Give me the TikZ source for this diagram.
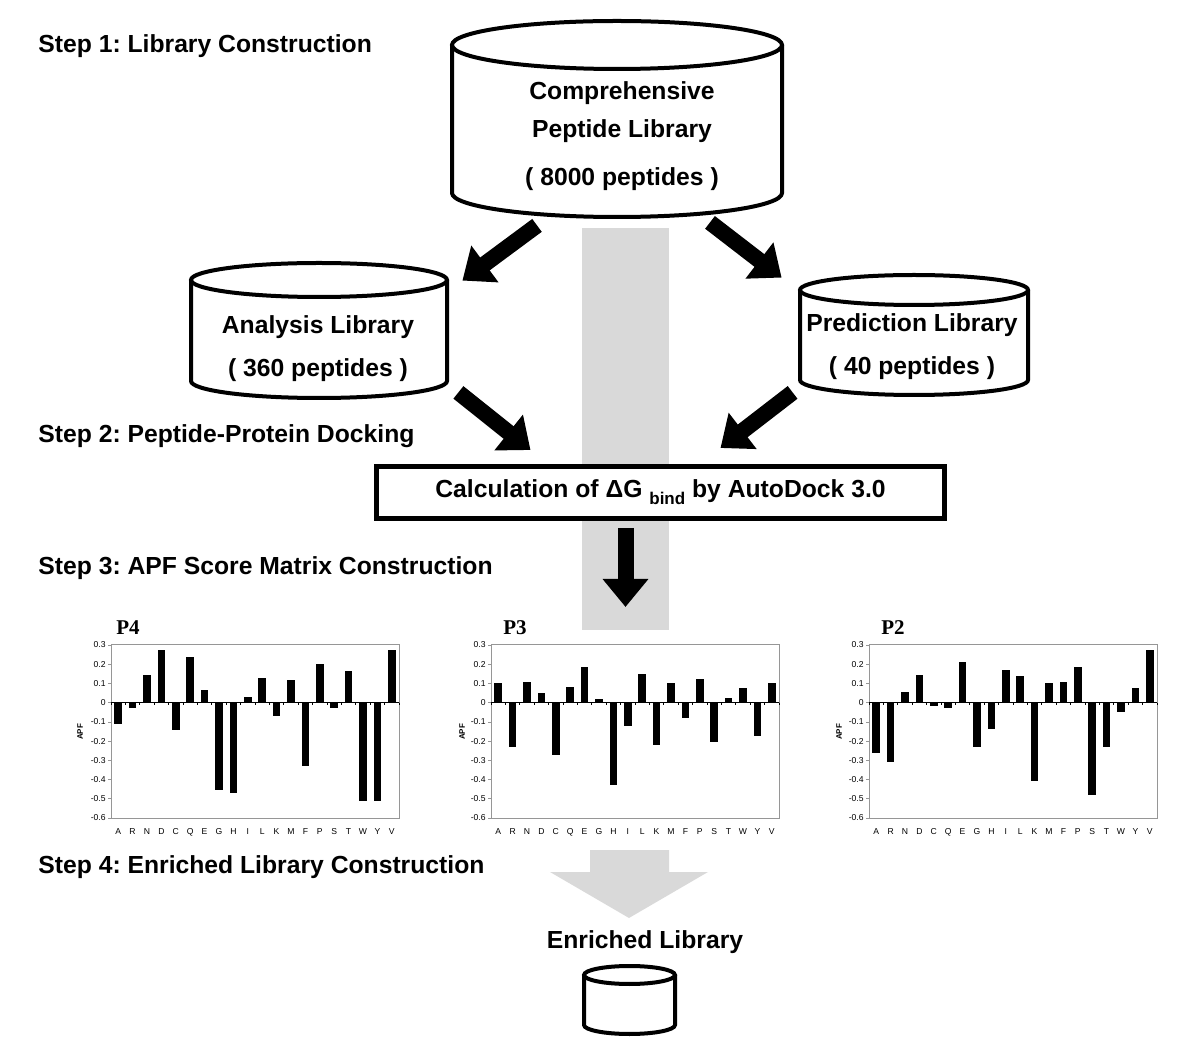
\documentclass[tikz,border=0pt]{standalone}
\usepackage{fontspec}
\setmainfont{Liberation Sans}
\newfontfamily\chartserif{Liberation Serif}
\frenchspacing
\usetikzlibrary{arrows.meta, positioning, fit}

\definecolor{bandgray}{RGB}{217,217,217}
\definecolor{framegray}{RGB}{150,150,150}

\tikzset{
  steplabel/.style={anchor=west, inner sep=0pt, font=\fontsize{12.35}{14}\selectfont\bfseries},
  libtext/.style={align=center, inner sep=0pt, font=\fontsize{12.35}{21.5}\selectfont\bfseries},
  drumline/.style={line width=2pt},
  fatarrow/.style={line width=8pt, -{Triangle[width=22pt,length=14pt]}},
  calcbox/.style={draw, line width=2.5pt, fill=white, minimum width=284pt, minimum height=26pt,
    inner sep=0pt, font=\fontsize{12.35}{14}\selectfont\bfseries},
  chartbox/.style={draw=framegray, line width=0.5pt, minimum width=144pt, minimum height=86.5pt,
    inner sep=0pt, outer sep=0pt},
  ticklabel/.style={anchor=east, inner sep=0pt, font=\fontsize{4.3}{5}\selectfont},
  catlabel/.style={inner sep=0pt, font=\fontsize{4.3}{5}\selectfont},
  apflabel/.style={rotate=90, inner sep=0pt, font=\fontsize{4}{5}\selectfont\bfseries},
  plabel/.style={anchor=west, inner sep=0pt, font=\fontsize{10.5}{12}\selectfont\chartserif\bfseries}
}

% drum: name, centre x, top y, bottom y, half width, y radius
\newcommand{\drum}[6]{%
  \draw[drumline] (#2-#5,#3) -- (#2-#5,#4)
    arc[start angle=180, end angle=0, x radius=#5, y radius=#6] -- (#2+#5,#3);
  \draw[drumline] (#2,#3) ellipse[x radius=#5, y radius=#6];
  \coordinate (#1nw) at (#2-#5,#3-#6);
  \coordinate (#1se) at (#2+#5,#4+#6);
  \node[fit=(#1nw)(#1se), inner sep=0pt] (#1) {};
}

\begin{document}
\begin{tikzpicture}[x=0.5pt, y=-0.5pt]
  \useasboundingbox (0,0) rectangle (1200,1058);

  % Step titles
  \node[steplabel] (step1) at (38,46) {Step 1: Library Construction};
  \node[steplabel] (step2) at (38,436) {Step 2: Peptide-Protein Docking};
  \node[steplabel] (step3) at (38,568) {Step 3: APF Score Matrix Construction};
  \node[steplabel] (step4) at (38,867) {Step 4: Enriched Library Construction};

  % Gray band behind the docking step
  \fill[bandgray] (582,228) rectangle (669,630);

  % Libraries
  \drum{comp}{617}{45}{193}{165}{24}
  \node[libtext, font=\fontsize{12.35}{19}\selectfont\bfseries] (compText) at (622,136)
    {Comprehensive\\Peptide Library\\[5pt]( 8000 peptides )};

  \drum{ana}{319}{280}{381}{128}{17}
  \node[libtext] (anaText) at (318,349) {Analysis Library\\( 360 peptides )};

  \drum{pred}{914}{290}{380}{114}{15}
  \node[libtext] (predText) at (912,347) {Prediction Library\\( 40 peptides )};

  % Docking box
  \node[calcbox] (calc) at (660.5,492.5)
    {Calculation of ΔG \raisebox{-0.55ex}{\fontsize{8.5}{9}\selectfont bind} by AutoDock 3.0};
  \coordinate (p3in) at (625.5,607);

  % Arrows
  \draw[fatarrow] ([shift={(-80,8)}]comp.south) -- ([shift={(15,18)}]ana.north east);
  \draw[fatarrow] ([shift={(93,5)}]comp.south) -- ([shift={(-18,3)}]pred.north west);
  \draw[fatarrow] ([shift={(11,-6)}]ana.south east) -- ([shift={(-130,-14)}]calc.north);
  \draw[fatarrow] ([shift={(-7,-3)}]pred.south west) -- ([shift={(60,-16)}]calc.north);
  \draw[fatarrow] ([shift={(-35,7)}]calc.south) -- (p3in);

  % P4 chart
  \begin{scope}[shift={(111,645)}]
    \node[chartbox] (p4box) at (144,86.5) {};
    \foreach \v in {0.3,0.2,0.1,0,-0.1,-0.2,-0.3,-0.4,-0.5,-0.6} {
      \draw[framegray, line width=0.4pt] (-3,{57.7-(\v)*192.2}) -- (0,{57.7-(\v)*192.2});
      \node[ticklabel] at (-5,{57.7-(\v)*192.2}) {\v};
    }
    \foreach \h [count=\i] in {-0.11,-0.03,0.145,0.275,-0.14,0.24,0.065,-0.455,-0.47,0.03,
                               0.13,-0.07,0.12,-0.33,0.20,-0.03,0.165,-0.51,-0.51,0.275}
      \fill ({14.4*\i-11},57.7) rectangle ({14.4*\i-3.4},{57.7-(\h)*192.2});
    \draw[line width=0.5pt] (0,57.7) -- (288,57.7);
    \foreach \i in {0,...,20} \draw[line width=0.4pt] ({14.4*\i},57.7) -- ({14.4*\i},60);
    \foreach \a [count=\i] in {A,R,N,D,C,Q,E,G,H,I,L,K,M,F,P,S,T,W,Y,V}
      \node[catlabel] (p4c\i) at ({14.4*\i-7.2},187) {\a};
    \node[apflabel] (p4apf) at (-31,87) {APF};
    \node[plabel] (p4) at (5,-17) {P4};
  \end{scope}

  % P3 chart
  \begin{scope}[shift={(491,645)}]
    \node[chartbox] (p3box) at (144,86.5) {};
    \foreach \v in {0.3,0.2,0.1,0,-0.1,-0.2,-0.3,-0.4,-0.5,-0.6} {
      \draw[framegray, line width=0.4pt] (-3,{57.7-(\v)*192.2}) -- (0,{57.7-(\v)*192.2});
      \node[ticklabel] at (-5,{57.7-(\v)*192.2}) {\v};
    }
    \foreach \h [count=\i] in {0.10,-0.23,0.11,0.05,-0.27,0.08,0.185,0.02,-0.43,-0.12,
                               0.15,-0.22,0.10,-0.08,0.125,-0.205,0.025,0.075,-0.175,0.10}
      \fill ({14.4*\i-11},57.7) rectangle ({14.4*\i-3.4},{57.7-(\h)*192.2});
    \draw[line width=0.5pt] (0,57.7) -- (288,57.7);
    \foreach \i in {0,...,20} \draw[line width=0.4pt] ({14.4*\i},57.7) -- ({14.4*\i},60);
    \foreach \a [count=\i] in {A,R,N,D,C,Q,E,G,H,I,L,K,M,F,P,S,T,W,Y,V}
      \node[catlabel] (p3c\i) at ({14.4*\i-7.2},187) {\a};
    \node[apflabel] (p3apf) at (-29,87) {APF};
    \node[plabel] (p3) at (12,-17) {P3};
  \end{scope}

  % P2 chart
  \begin{scope}[shift={(869,645)}]
    \node[chartbox] (p2box) at (144,86.5) {};
    \foreach \v in {0.3,0.2,0.1,0,-0.1,-0.2,-0.3,-0.4,-0.5,-0.6} {
      \draw[framegray, line width=0.4pt] (-3,{57.7-(\v)*192.2}) -- (0,{57.7-(\v)*192.2});
      \node[ticklabel] at (-5,{57.7-(\v)*192.2}) {\v};
    }
    \foreach \h [count=\i] in {-0.26,-0.31,0.055,0.145,-0.015,-0.025,0.21,-0.23,-0.135,0.17,
                               0.14,-0.405,0.10,0.11,0.185,-0.48,-0.23,-0.05,0.075,0.275}
      \fill ({14.4*\i-11},57.7) rectangle ({14.4*\i-3.4},{57.7-(\h)*192.2});
    \draw[line width=0.5pt] (0,57.7) -- (288,57.7);
    \foreach \i in {0,...,20} \draw[line width=0.4pt] ({14.4*\i},57.7) -- ({14.4*\i},60);
    \foreach \a [count=\i] in {A,R,N,D,C,Q,E,G,H,I,L,K,M,F,P,S,T,W,Y,V}
      \node[catlabel] (p2c\i) at ({14.4*\i-7.2},187) {\a};
    \node[apflabel] (p2apf) at (-30,87) {APF};
    \node[plabel] (p2) at (12,-17) {P2};
  \end{scope}

  % Gray arrow to the enriched library
  \fill[bandgray] (590,850) -- (669,850) -- (669,872) -- (708,872) -- (629,918)
    -- (550,872) -- (590,872) -- cycle;

  % Enriched library
  \node[libtext] (enrText) at (645,942) {Enriched Library};
  \drum{enr}{629.5}{975}{1025}{45.5}{9}

\end{tikzpicture}
\end{document}
